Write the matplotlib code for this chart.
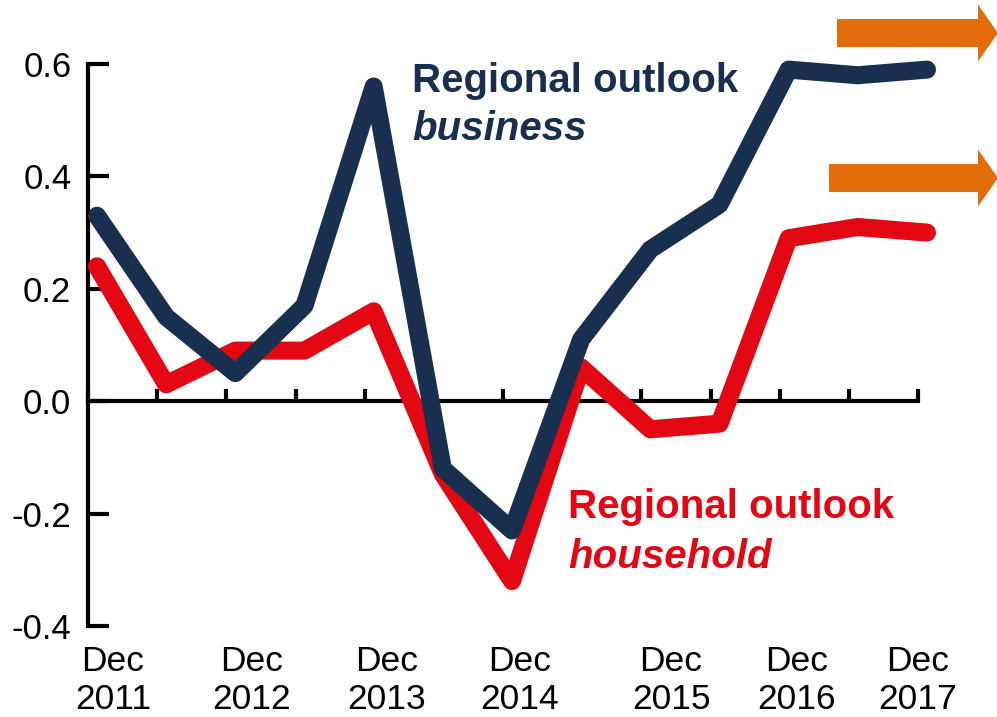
import matplotlib
matplotlib.use("Agg")
import matplotlib.pyplot as plt
from matplotlib.patches import FancyArrow
import matplotlib.transforms as mtransforms

plt.rcParams['font.family'] = ['Liberation Sans', 'DejaVu Sans']

# ---- data (semi-annual, Dec 2011 .. Dec 2017) ----
periods = list(range(13))
business = [0.33, 0.15, 0.05, 0.17, 0.56, -0.12, -0.23, 0.11, 0.27, 0.35, 0.59, 0.58, 0.59]
household = [0.24, 0.03, 0.09, 0.09, 0.16, -0.13, -0.32, 0.06, -0.05, -0.04, 0.29, 0.31, 0.30]
tick_positions = [p - 0.13 for p in periods]
x_labels = ["Dec\n2011", "Dec\n2012", "Dec\n2013", "Dec\n2014", "Dec\n2015", "Dec\n2016", "Dec\n2017"]
x_label_pos = [0.23, 2.24, 4.19, 6.11, 8.30, 10.11, 11.86]
y_ticks = [-0.4, -0.2, 0.0, 0.2, 0.4, 0.6]
y_labels = ["-0.4", "-0.2", "0.0", "0.2", "0.4", "0.6"]

NAVY = "#182F4F"
RED = "#E30613"
ORANGE = "#E46C0A"

W, H = 997, 717
fig = plt.figure(figsize=(W / 100, H / 100), dpi=100)
ax = fig.add_axes([88 / W, 1 - 626 / H, 830 / W, 562 / H])

ax.set_xlim(-0.13, 11.87)
ax.set_ylim(-0.4, 0.6)

ax.plot(periods, household, color=RED, lw=13, solid_capstyle='round',
        solid_joinstyle='round', clip_on=False, zorder=3)
ax.plot(periods, business, color=NAVY, lw=13, solid_capstyle='round',
        solid_joinstyle='round', clip_on=False, zorder=4)

for s in ['top', 'right']:
    ax.spines[s].set_visible(False)
ax.spines['bottom'].set_position(('data', 0))
ax.spines['left'].set_linewidth(3)
ax.spines['bottom'].set_linewidth(3)
ax.spines['left'].set_zorder(1)
ax.spines['bottom'].set_zorder(1)

ax.set_yticks(y_ticks)
ax.set_yticklabels(y_labels, fontsize=25)
ax.tick_params(axis='y', direction='in', length=15, width=3, pad=12)

ax.set_xticks(tick_positions)
ax.set_xticklabels([])
ax.tick_params(axis='x', direction='in', length=9, width=3)

trans = mtransforms.blended_transform_factory(ax.transData, ax.transAxes)
for xp, lab in zip(x_label_pos, x_labels):
    ax.text(xp, -0.034, lab, transform=trans, ha='center', va='top',
            fontsize=25.5, linespacing=1.2)

# annotations
ax.text(412 / W, 1 - 92 / H, "Regional outlook", transform=fig.transFigure,
        color=NAVY, fontsize=29, fontweight='bold', va='baseline', ha='left')
ax.text(412 / W, 1 - 140 / H, "business", transform=fig.transFigure,
        color=NAVY, fontsize=29, fontweight='bold', style='italic', va='baseline', ha='left')
ax.text(568 / W, 1 - 518 / H, "Regional outlook", transform=fig.transFigure,
        color=RED, fontsize=29, fontweight='bold', va='baseline', ha='left')
ax.text(568 / W, 1 - 568 / H, "household", transform=fig.transFigure,
        color=RED, fontsize=29, fontweight='bold', style='italic', va='baseline', ha='left')

# orange arrows (in pixel coordinates of the figure)
def arrow(x0, x1, yc):
    a = FancyArrow(x0 / 100, (H - yc) / 100, (x1 - x0) / 100, 0,
                   width=28 / 100, head_width=57 / 100, head_length=20 / 100,
                   length_includes_head=True, color=ORANGE, lw=0,
                   transform=fig.dpi_scale_trans)
    fig.patches.append(a)

arrow(837, 998, 33)
arrow(829, 998, 178)

fig.savefig("out.png", dpi=100)
